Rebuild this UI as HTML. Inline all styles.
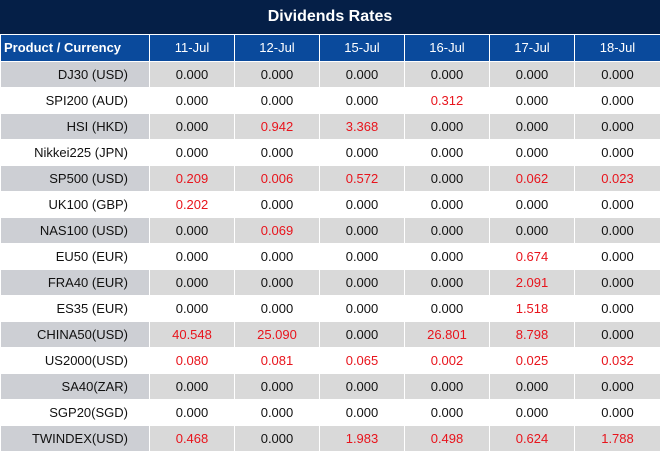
<!DOCTYPE html><html><head><style>
body{margin:0;width:660px;height:452px;overflow:hidden;background:#fff;font-family:"Liberation Sans",sans-serif;}
.t{height:34px;background:#051f47;color:#fff;font-weight:bold;font-size:16px;text-align:center;line-height:34px;border-bottom:1px solid #fff}
table{border-collapse:collapse;width:660px;table-layout:fixed}
td,th{height:25px;padding:0;font-size:13px;text-align:center;border:1px solid #fff;border-top:0;}
tr{height:26px}
th{background:#0a4a9c;color:#fff;font-weight:normal;height:25px}
th.f{font-weight:bold;text-align:left;padding-left:3px}
td.f{text-align:right;padding-right:21px;color:#111}
td{color:#111}
tr.g td{background:#d9d9d9}
tr.g td.f{background:#cdcfd4}
.r{color:#e8141c}
</style></head><body>
<div class="t">Dividends Rates</div>
<table>
<colgroup><col style="width:149px"><col style="width:85px"><col style="width:85px"><col style="width:85px"><col style="width:85px"><col style="width:85px"><col style="width:86px"></colgroup>
<tr><th class="f">Product / Currency</th><th>11-Jul</th><th>12-Jul</th><th>15-Jul</th><th>16-Jul</th><th>17-Jul</th><th>18-Jul</th></tr>
<tr class="g"><td class="f">DJ30 (USD)</td><td>0.000</td><td>0.000</td><td>0.000</td><td>0.000</td><td>0.000</td><td>0.000</td></tr>
<tr><td class="f">SPI200 (AUD)</td><td>0.000</td><td>0.000</td><td>0.000</td><td class="r">0.312</td><td>0.000</td><td>0.000</td></tr>
<tr class="g"><td class="f">HSI (HKD)</td><td>0.000</td><td class="r">0.942</td><td class="r">3.368</td><td>0.000</td><td>0.000</td><td>0.000</td></tr>
<tr><td class="f">Nikkei225 (JPN)</td><td>0.000</td><td>0.000</td><td>0.000</td><td>0.000</td><td>0.000</td><td>0.000</td></tr>
<tr class="g"><td class="f">SP500 (USD)</td><td class="r">0.209</td><td class="r">0.006</td><td class="r">0.572</td><td>0.000</td><td class="r">0.062</td><td class="r">0.023</td></tr>
<tr><td class="f">UK100 (GBP)</td><td class="r">0.202</td><td>0.000</td><td>0.000</td><td>0.000</td><td>0.000</td><td>0.000</td></tr>
<tr class="g"><td class="f">NAS100 (USD)</td><td>0.000</td><td class="r">0.069</td><td>0.000</td><td>0.000</td><td>0.000</td><td>0.000</td></tr>
<tr><td class="f">EU50 (EUR)</td><td>0.000</td><td>0.000</td><td>0.000</td><td>0.000</td><td class="r">0.674</td><td>0.000</td></tr>
<tr class="g"><td class="f">FRA40 (EUR)</td><td>0.000</td><td>0.000</td><td>0.000</td><td>0.000</td><td class="r">2.091</td><td>0.000</td></tr>
<tr><td class="f">ES35 (EUR)</td><td>0.000</td><td>0.000</td><td>0.000</td><td>0.000</td><td class="r">1.518</td><td>0.000</td></tr>
<tr class="g"><td class="f">CHINA50(USD)</td><td class="r">40.548</td><td class="r">25.090</td><td>0.000</td><td class="r">26.801</td><td class="r">8.798</td><td>0.000</td></tr>
<tr><td class="f">US2000(USD)</td><td class="r">0.080</td><td class="r">0.081</td><td class="r">0.065</td><td class="r">0.002</td><td class="r">0.025</td><td class="r">0.032</td></tr>
<tr class="g"><td class="f">SA40(ZAR)</td><td>0.000</td><td>0.000</td><td>0.000</td><td>0.000</td><td>0.000</td><td>0.000</td></tr>
<tr><td class="f">SGP20(SGD)</td><td>0.000</td><td>0.000</td><td>0.000</td><td>0.000</td><td>0.000</td><td>0.000</td></tr>
<tr class="g"><td class="f">TWINDEX(USD)</td><td class="r">0.468</td><td>0.000</td><td class="r">1.983</td><td class="r">0.498</td><td class="r">0.624</td><td class="r">1.788</td></tr>
</table></body></html>
